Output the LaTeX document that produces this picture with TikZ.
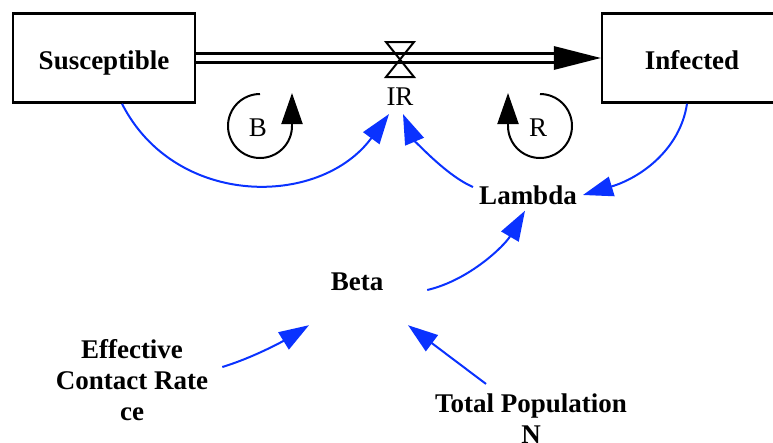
\documentclass[tikz,border=0pt]{standalone}
\usepackage{fontspec}
\setmainfont{Liberation Serif}
\usetikzlibrary{arrows.meta}
\definecolor{linkblue}{RGB}{10,50,255}
\tikzset{
    level/.style={draw, line width=2.5pt, minimum width=182pt, minimum height=89pt, inner sep=0pt, text height=22pt, text depth=0pt, font=\bfseries\fontsize{27}{31}\selectfont},
    aux/.style={align=center, inner sep=6pt, font=\bfseries\fontsize{27}{31}\selectfont},
    plain/.style={font=\fontsize{27}{31}\selectfont},
    link/.style={draw=linkblue, line width=2pt, -{Triangle[length=30pt,width=20pt]}},
    loop/.style={line width=2pt}
}
\begin{document}
\begin{tikzpicture}[x=1pt, y=-1pt]
    \useasboundingbox (0,0) rectangle (773,442);

        \node[level] (S) at (104,58) {Susceptible};
        \node[level, minimum width=180pt] (I) at (692,58) {Infected};
        \node[plain, inner sep=8pt] (IR) at (400,97) {IR};

           \draw[line width=2.5pt, double, double distance=6.5pt] (S.east) -- ([xshift=-44pt]I.west);
           \fill ([xshift=-47pt,yshift=12pt]I.west) -- (I.west) -- ([xshift=-47pt,yshift=-12pt]I.west) -- cycle;
           \draw[line width=2pt, line join=miter] (386,42) -- (414,42) -- (386,77) -- (414,77) -- cycle;

        \draw[loop] (260,94) arc[start angle=-90, end angle=-360, radius=32];
        \draw[loop, -{Triangle[length=31pt,width=21pt]}] (292,127) -- (292,93);
            \node[plain] (B) at (258,128) {B};
        \draw[loop] (540,94) arc[start angle=-90, end angle=180, radius=32];
        \draw[loop, -{Triangle[length=31pt,width=21pt]}] (508,127) -- (508,93);
            \node[plain] (R) at (538,128) {R};

        \node[aux] (lambda) at (528,195) {Lambda};
        \node[aux, minimum width=140pt, minimum height=86pt] (beta) at (357,282) {Beta};
        \node[aux] (ce) at (132,380) {Effective\\Contact Rate\\ce};
        \node[aux] (N) at (531,419) {Total Population\\N};

           \draw[link] ([xshift=18pt]S.south) .. controls (175,208) and (320,208) .. ([xshift=-11pt]IR.south);
           \draw[link] ([yshift=8pt]lambda.west) .. controls (445,175) and (413,138) .. ([xshift=3pt]IR.south);
           \draw[link] ([xshift=-5pt]I.south) .. controls (680,150) and (640,178) .. (lambda.east);
           \draw[link] ([yshift=-8pt]beta.east) .. controls (470,280) and (505,245) .. ([xshift=-3pt]lambda.south);
           \draw[link] ([xshift=8pt,yshift=13pt]ce.east) .. controls (255,357) and (285,340) .. ([xshift=-48pt]beta.south);
           \draw[link] ([xshift=-45pt,yshift=4pt]N.north) -- ([xshift=51pt]beta.south);

\end{tikzpicture}
\end{document}
